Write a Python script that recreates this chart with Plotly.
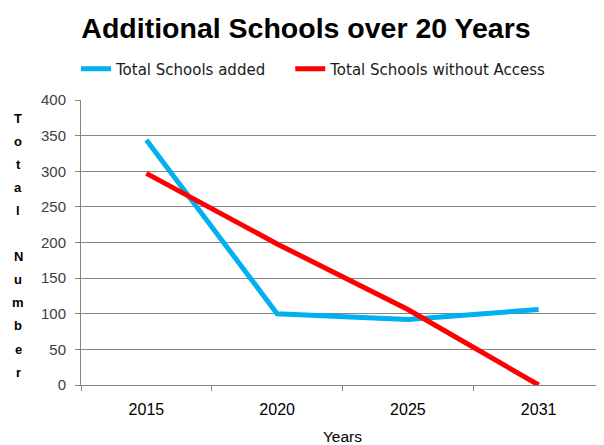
import plotly.graph_objects as go

years = ["2015", "2020", "2025", "2031"]
schools_added = [344, 100, 92, 106]
schools_without_access = [297, 198, 106, 0]

OFF = 8  # page body margin
W, H = 604 - OFF, 445 - OFF
L, R, T = 81 - OFF, 0, 100 - OFF
B = H - (385 - OFF)

fig = go.Figure()
fig.add_trace(go.Scatter(x=years, y=schools_added, mode="lines", name="Total Schools added" + "\u00a0" * 4,
                         line=dict(color="#00B0F0", width=5)))
fig.add_trace(go.Scatter(x=years, y=schools_without_access, mode="lines", name="Total Schools without Access",
                         line=dict(color="#FF0000", width=5)))

font = "Liberation Sans, Arial, sans-serif"
pw = W - L - R
ph = H - T - B
fig.update_layout(
    width=W, height=H,
    margin=dict(l=L, r=R, t=T, b=B, autoexpand=False),
    paper_bgcolor="white", plot_bgcolor="white",
    font=dict(family=font, size=15, color="#000000"),
    title=dict(text="<b>Additional Schools over 20 Years</b>", x=(306 - OFF) / W, xanchor="center",
               y=1 - (28 - OFF) / H, yanchor="middle", font=dict(size=28.5, family=font, color="black")),
    legend=dict(orientation="h", x=-5 / pw, xanchor="left", y=1 + 31 / ph, yanchor="middle",
                font=dict(size=15, family="DejaVu Sans, sans-serif", color="#1a1a1a"), itemwidth=30,
                traceorder="normal"),
    showlegend=True,
)
fig.update_xaxes(type="category", showgrid=False, showline=True, linecolor="#868686", linewidth=1,
                 ticks="outside", tickson="boundaries", ticklen=5, tickcolor="#868686",
                 range=[-0.5, 3.5], ticklabelstandoff=10, tickfont=dict(size=16),
                 title=dict(text="Years", standoff=14, font=dict(size=15.5)))
fig.update_yaxes(range=[0, 400], dtick=50, showgrid=True, gridcolor="#868686", gridwidth=1,
                 showline=True, linecolor="#868686", linewidth=1, ticks="outside", ticklen=5,
                 tickcolor="#868686", zeroline=False, ticklabelstandoff=6,
                 tickfont=dict(size=15, color="#404040"))

letters = ["T", "o", "t", "a", "l", "", "N", "u", "m", "b", "e", "r"]
for i, ch in enumerate(letters):
    if not ch:
        continue
    ypix = 118 + i * 23.1 - OFF
    fig.add_annotation(text="<b>" + ch + "</b>", xref="paper", yref="paper",
                       x=(18 - OFF - L) / pw, y=1 - (ypix - T) / ph,
                       showarrow=False, xanchor="center", yanchor="middle",
                       font=dict(size=13, family=font, color="black"))

fig.write_html("out.html")
